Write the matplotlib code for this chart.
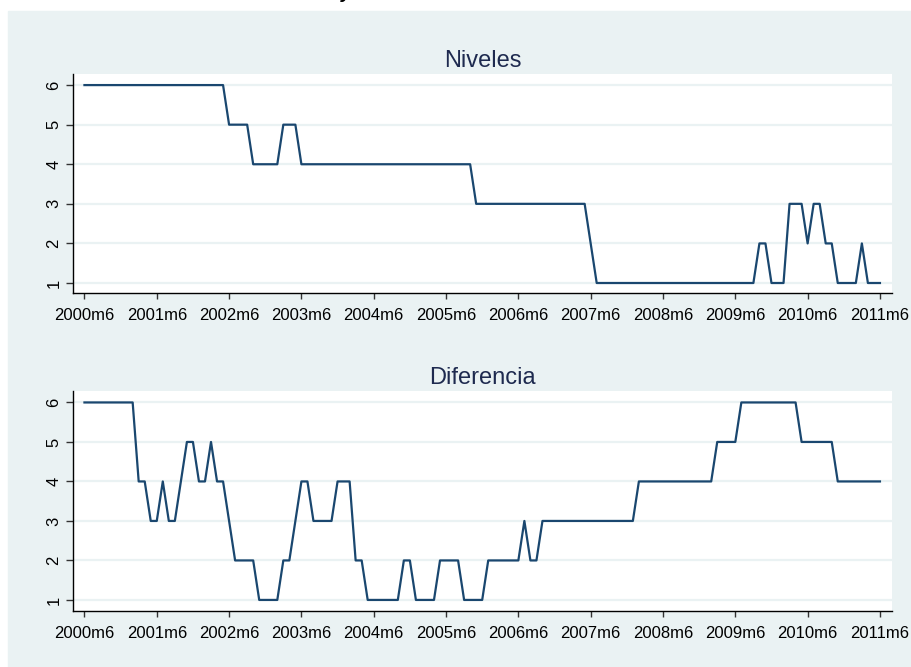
import matplotlib
matplotlib.use("Agg")
import matplotlib.pyplot as plt
from matplotlib.patches import Rectangle
import numpy as np

# Monthly series, 2000m6 .. 2011m6 (one row = 12 months starting in m6)
niveles = [
    6, 6, 6, 6, 6, 6, 6, 6, 6, 6, 6, 6,
    6, 6, 6, 6, 6, 6, 6, 6, 6, 6, 6, 6,
    5, 5, 5, 5, 4, 4, 4, 4, 4, 5, 5, 5,
    4, 4, 4, 4, 4, 4, 4, 4, 4, 4, 4, 4,
    4, 4, 4, 4, 4, 4, 4, 4, 4, 4, 4, 4,
    4, 4, 4, 4, 4, 3, 3, 3, 3, 3, 3, 3,
    3, 3, 3, 3, 3, 3, 3, 3, 3, 3, 3, 3,
    2, 1, 1, 1, 1, 1, 1, 1, 1, 1, 1, 1,
    1, 1, 1, 1, 1, 1, 1, 1, 1, 1, 1, 1,
    1, 1, 1, 1, 2, 2, 1, 1, 1, 3, 3, 3,
    2, 3, 3, 2, 2, 1, 1, 1, 1, 2, 1, 1,
    1,
]

diferencia = [
    6, 6, 6, 6, 6, 6, 6, 6, 6, 4, 4, 3,
    3, 4, 3, 3, 4, 5, 5, 4, 4, 5, 4, 4,
    3, 2, 2, 2, 2, 1, 1, 1, 1, 2, 2, 3,
    4, 4, 3, 3, 3, 3, 4, 4, 4, 2, 2, 1,
    1, 1, 1, 1, 1, 2, 2, 1, 1, 1, 1, 2,
    2, 2, 2, 1, 1, 1, 1, 2, 2, 2, 2, 2,
    2, 3, 2, 2, 3, 3, 3, 3, 3, 3, 3, 3,
    3, 3, 3, 3, 3, 3, 3, 3, 4, 4, 4, 4,
    4, 4, 4, 4, 4, 4, 4, 4, 4, 5, 5, 5,
    5, 6, 6, 6, 6, 6, 6, 6, 6, 6, 6, 5,
    5, 5, 5, 5, 5, 4, 4, 4, 4, 4, 4, 4,
    4,
]

tick_labels = ["2000m6", "2001m6", "2002m6", "2003m6", "2004m6", "2005m6",
               "2006m6", "2007m6", "2008m6", "2009m6", "2010m6", "2011m6"]
y_ticks = [1, 2, 3, 4, 5, 6]
titles = ["Niveles", "Diferencia"]

BG = "#EAF2F3"
LINE = "#1A476F"
TITLE_C = "#1E2A4F"

plt.rcParams["font.family"] = ["Liberation Sans", "DejaVu Sans"]

W, H = 912, 667
fig = plt.figure(figsize=(W / 100, H / 100), dpi=100, facecolor="white")
bg = Rectangle((8 / W, 0), 1 - 8 / W, 1 - 11 / H,
               transform=fig.transFigure, color=BG, zorder=-10)
fig.add_artist(bg)

# truncated title fragment at the very top
fig.text(341 / W, 1 + 1.5 / H, "y", fontsize=14, fontweight="bold",
         fontstyle="italic", va="baseline", ha="left", color="black")

ax1 = fig.add_axes([73.3 / W, 373.7 / H, 818.4 / W, 219.3 / H])
ax2 = fig.add_axes([73.3 / W, 56 / H, 818.4 / W, 220 / H])

tick_pos = [12 * i for i in range(len(tick_labels))]

for ax, data, title, ylim in [(ax1, niveles, titles[0], (0.74, 6.28)),
                              (ax2, diferencia, titles[1], (0.72, 6.29))]:
    x = np.arange(len(data))
    ax.set_zorder(1)
    ax.set_facecolor("white")
    ax.plot(x, data, color=LINE, lw=1.6, zorder=3)
    ax.set_xlim(-1.85, 133.95)
    ax.set_ylim(*ylim)
    ax.set_yticks(y_ticks)
    ax.set_yticklabels([str(v) for v in y_ticks], rotation=90,
                       va="center", ha="right")
    ax.set_xticks(tick_pos)
    ax.set_xticklabels(tick_labels)
    ax.grid(axis="y", color=BG, lw=1.6, zorder=1)
    ax.grid(axis="x", visible=False)
    ax.set_axisbelow(True)
    for s in ["top", "right"]:
        ax.spines[s].set_visible(False)
    for s in ["left", "bottom"]:
        ax.spines[s].set_color("black")
        ax.spines[s].set_linewidth(1.0)
    ax.tick_params(axis="y", length=4.7, width=1.0, color="#333333",
                   labelsize=12, pad=3.8, labelcolor="black")
    ax.tick_params(axis="x", length=4.6, width=1.0, color="#333333",
                   labelsize=12, pad=6, labelcolor="black")
    ax.set_title(title, fontsize=17, color=TITLE_C, pad=5)

fig.savefig("out.png", dpi=100, facecolor="white")
